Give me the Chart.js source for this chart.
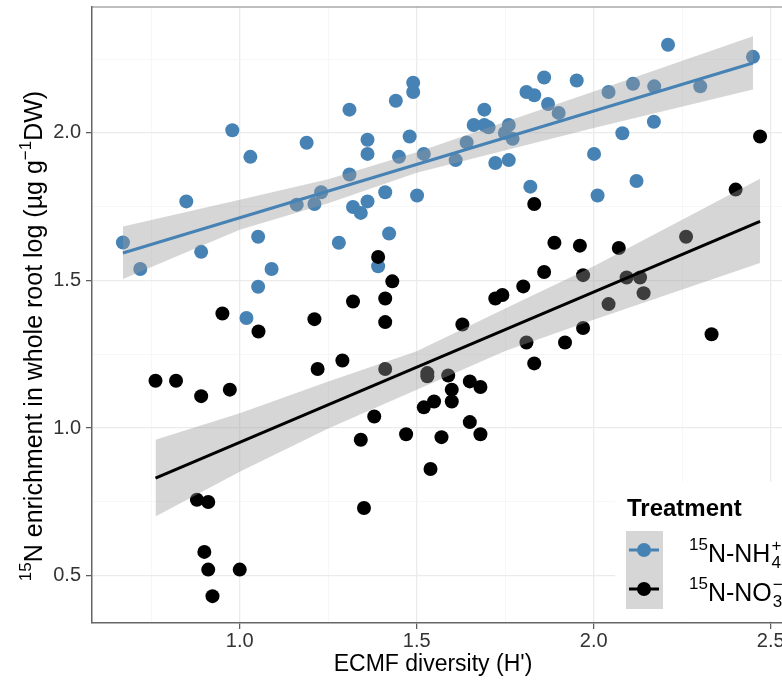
<!DOCTYPE html>
<html>
<head>
<meta charset="utf-8">
<script src="https://cdn.jsdelivr.net/npm/chart.js@4.4.1/dist/chart.umd.min.js"></script>
<style>
html, body { margin: 0; padding: 0; background: #fff; overflow: hidden; }
</style>
</head>
<body>
<canvas id="ecmfChart" width="782" height="686"></canvas>
<script>
var fontFamily = "'Liberation Sans', Arial, sans-serif";

var xTicks = [0.75, 1.0, 1.25, 1.5, 1.75, 2.0, 2.25, 2.5];
var yTicks = [0.5, 0.75, 1.0, 1.25, 1.5, 1.75, 2.0, 2.25];
var majorTicks = [0.5, 1.0, 1.5, 2.0, 2.5];

// 15N-NH4+ treatment
var nh4X = [0.670, 0.719, 0.849, 0.891, 0.979, 1.030, 1.052, 1.090, 1.052, 1.019,
            1.189, 1.161, 1.211, 1.230, 1.280, 1.310, 1.310, 1.320, 1.342, 1.361,
            1.361, 1.361, 1.391, 1.411, 1.422, 1.441, 1.480, 1.450, 1.490, 1.490,
            1.520, 1.501, 1.610, 1.641, 1.691, 1.661, 1.691, 1.703, 1.760, 1.749,
            1.771, 1.722, 1.760, 1.821, 1.810, 1.832, 1.860, 1.871, 1.901, 1.952,
            2.001, 2.011, 2.042, 2.081, 2.111, 2.121, 2.171, 2.170, 2.210, 2.301, 2.450];
var nh4Y = [1.629, 1.539, 1.768, 1.597, 2.009, 1.919, 1.648, 1.539, 1.479, 1.373,
            1.967, 1.757, 1.759, 1.799, 1.628, 2.079, 1.859, 1.749, 1.729, 1.977,
            1.929, 1.768, 1.548, 1.799, 1.659, 2.109, 1.988, 1.919, 2.170, 2.139,
            1.929, 1.788, 1.908, 1.968, 2.079, 2.027, 2.027, 2.019, 2.027, 2.000,
            1.980, 1.898, 1.908, 1.818, 2.139, 2.128, 2.188, 2.098, 2.068, 2.178,
            1.929, 1.788, 2.139, 1.999, 2.167, 1.837, 2.158, 2.038, 2.299, 2.158, 2.258];

// 15N-NO3- treatment
var no3X = [0.762, 0.820, 0.891, 0.951, 0.972, 0.879, 0.911, 0.900, 0.911, 1.000,
            0.923, 1.053, 1.211, 1.220, 1.290, 1.320, 1.411, 1.411, 1.431, 1.411,
            1.380, 1.342, 1.351, 1.470, 1.530, 1.530, 1.520, 1.549, 1.539, 1.391,
            1.832, 1.889, 1.961, 2.071, 1.860, 1.801, 1.722, 1.742, 1.970, 2.093,
            2.131, 2.141, 2.042, 2.261, 2.401, 2.470, 1.629, 1.589, 1.599, 1.599,
            1.650, 1.680, 1.650, 1.680, 1.570, 1.810, 1.832, 1.919, 1.970, 2.333];
var no3Y = [1.160, 1.160, 1.108, 1.388, 1.130, 0.757, 0.749, 0.580, 0.520, 0.520,
            0.430, 1.327, 1.369, 1.200, 1.229, 1.429, 1.439, 1.359, 1.497, 1.200,
            1.039, 0.960, 0.729, 0.979, 1.186, 1.175, 1.070, 1.090, 0.861, 1.580,
            1.759, 1.628, 1.618, 1.610, 1.529, 1.480, 1.439, 1.451, 1.518, 1.510,
            1.510, 1.457, 1.420, 1.648, 1.808, 1.988, 1.351, 1.178, 1.130, 1.090,
            1.158, 1.139, 1.020, 0.979, 0.969, 1.290, 1.219, 1.290, 1.339, 1.318];

// fitted lines and their grey bands
var nh4FitX = [0.670, 2.450];
var nh4FitY = [1.593, 2.237];
var nh4BandX = [0.670, 1.0, 1.25, 1.5, 2.0, 2.450];
var nh4BandLow = [1.505, 1.672, 1.762, 1.865, 2.017, 2.147];
var nh4BandHigh = [1.683, 1.774, 1.843, 1.935, 2.141, 2.328];

var no3FitX = [0.762, 2.470];
var no3FitY = [0.830, 1.700];
var no3BandX = [0.762, 1.0, 1.25, 1.5, 1.75, 2.0, 2.470];
var no3BandLow = [0.700, 0.852, 0.998, 1.130, 1.261, 1.367, 1.559];
var no3BandHigh = [0.960, 1.050, 1.158, 1.260, 1.405, 1.548, 1.845];

var blue = '#4682b4';
var bandFill = 'rgba(153,153,153,0.4)';

function toPoints(xs, ys) {
    return xs.map(function (x, i) { return { x: x, y: ys[i] }; });
}

function isMajor(v) {
    return majorTicks.some(function (m) { return Math.abs(m - v) < 1e-6; });
}

function lineSet(xs, ys, color) {
    return { data: toPoints(xs, ys), showLine: true, borderColor: color, borderWidth: 3,
             pointRadius: 0, fill: false, order: 0 };
}

function bandSet(xs, ys, fill) {
    return { data: toPoints(xs, ys), showLine: true, borderWidth: 0, borderColor: 'rgba(0,0,0,0)',
             pointRadius: 0, fill: fill, backgroundColor: bandFill, order: 1 };
}

function drawRuns(ctx, runs, x, y) {
    runs.forEach(function (r) {
        ctx.font = (r.bold ? 'bold ' : '') + r.size + 'px ' + fontFamily;
        ctx.fillText(r.text, x, y + (r.dy || 0));
        x += ctx.measureText(r.text).width;
    });
    return x;
}

function runsWidth(ctx, runs) {
    var w = 0;
    runs.forEach(function (r) {
        ctx.font = (r.bold ? 'bold ' : '') + r.size + 'px ' + fontFamily;
        w += ctx.measureText(r.text).width;
    });
    return w;
}

var decorPlugin = {
    id: 'decor',
    afterDraw: function (chart) {
        var ctx = chart.ctx;
        var area = chart.chartArea;
        ctx.save();

        // top panel border
        ctx.strokeStyle = '#7f7f7f';
        ctx.lineWidth = 1.2;
        ctx.beginPath();
        ctx.moveTo(area.left, area.top);
        ctx.lineTo(chart.width, area.top);
        ctx.stroke();

        ctx.fillStyle = '#000';
        ctx.textBaseline = 'alphabetic';

        // x title
        var xt = [{ text: "ECMF diversity (H')", size: 23 }];
        drawRuns(ctx, xt, 433 - runsWidth(ctx, xt) / 2, 671);

        // y title
        var yt = [
            { text: '15', size: 17, dy: -11 },
            { text: 'N enrichment in whole root log (\u00b5g g', size: 25 },
            { text: '\u22121', size: 17, dy: -11 },
            { text: 'DW)', size: 25 }
        ];
        ctx.save();
        ctx.translate(42, 336);
        ctx.rotate(-Math.PI / 2);
        drawRuns(ctx, yt, -runsWidth(ctx, yt) / 2, 0);
        ctx.restore();

        // legend
        ctx.fillStyle = '#fff';
        ctx.fillRect(615, 482, 180, 139);
        ctx.fillStyle = '#000';
        drawRuns(ctx, [{ text: 'Treatment', size: 24, bold: true }], 627, 516);

        ctx.fillStyle = bandFill;
        ctx.fillRect(626, 531, 37, 78);

        var keys = [{ y: 550, color: blue, ion: 'NH', sup: '+', sub: '4' },
                    { y: 589, color: '#000', ion: 'NO', sup: '\u2212', sub: '3' }];
        keys.forEach(function (k) {
            ctx.strokeStyle = k.color;
            ctx.lineWidth = 3;
            ctx.beginPath();
            ctx.moveTo(629, k.y);
            ctx.lineTo(659, k.y);
            ctx.stroke();
            ctx.fillStyle = k.color;
            ctx.beginPath();
            ctx.arc(644, k.y, 7, 0, Math.PI * 2);
            ctx.fill();

            ctx.fillStyle = '#000';
            var base = k.y + 12;
            var x = drawRuns(ctx, [
                { text: '15', size: 17, dy: -12 },
                { text: 'N-' + k.ion, size: 25 }
            ], 689, base);
            ctx.font = '17px ' + fontFamily;
            ctx.fillText(k.sup, x + 1, base - 11);
            ctx.fillText(k.sub, x + 1, base + 6);
        });

        ctx.restore();
    }
};

function fixPadding(s) {
    s.paddingTop = 0;
    s.paddingBottom = 0;
    s.paddingLeft = 0;
    s.paddingRight = 0;
}

var ctx = document.getElementById('ecmfChart').getContext('2d');
var ecmfChart = new Chart(ctx, {
    type: 'scatter',
    data: {
        datasets: [
            lineSet(nh4FitX, nh4FitY, blue),
            lineSet(no3FitX, no3FitY, '#000'),
            bandSet(nh4BandX, nh4BandHigh, '+1'),
            bandSet(nh4BandX, nh4BandLow, false),
            bandSet(no3BandX, no3BandHigh, '+1'),
            bandSet(no3BandX, no3BandLow, false),
            { label: '15N-NO3-', data: toPoints(no3X, no3Y), backgroundColor: '#000',
              pointRadius: 7, pointBorderWidth: 0, order: 2 },
            { label: '15N-NH4+', data: toPoints(nh4X, nh4Y), backgroundColor: blue,
              pointRadius: 7, pointBorderWidth: 0, order: 3 }
        ]
    },
    options: {
        responsive: false,
        animation: false,
        events: [],
        layout: { autoPadding: false, padding: { top: 7, right: 0, bottom: 0, left: 0 } },
        plugins: { legend: { display: false }, tooltip: { enabled: false } },
        scales: {
            x: {
                type: 'linear',
                min: 0.5826,
                max: 2.532,
                afterBuildTicks: function (s) { s.ticks = xTicks.map(function (v) { return { value: v }; }); },
                afterFit: function (s) { s.height = 63; fixPadding(s); },
                border: { display: true, color: '#666', width: 1.5 },
                grid: {
                    color: function (c) { return isMajor(c.tick.value) ? '#ebebeb' : '#f4f4f4'; },
                    lineWidth: function (c) { return isMajor(c.tick.value) ? 1.3 : 0.7; },
                    tickColor: function (c) { return isMajor(c.tick.value) ? '#555' : 'rgba(0,0,0,0)'; },
                    tickLength: 6,
                    tickWidth: 1.2
                },
                ticks: {
                    color: '#333',
                    font: { family: fontFamily, size: 20 },
                    padding: 0,
                    maxRotation: 0,
                    autoSkip: false,
                    callback: function (v) { return isMajor(v) ? v.toFixed(1) : ''; }
                }
            },
            y: {
                type: 'linear',
                min: 0.339,
                max: 2.427,
                afterBuildTicks: function (s) { s.ticks = yTicks.map(function (v) { return { value: v }; }); },
                afterFit: function (s) { s.width = 92; fixPadding(s); },
                border: { display: true, color: '#666', width: 1.5 },
                grid: {
                    color: function (c) { return isMajor(c.tick.value) ? '#ebebeb' : '#f4f4f4'; },
                    lineWidth: function (c) { return isMajor(c.tick.value) ? 1.3 : 0.7; },
                    tickColor: function (c) { return isMajor(c.tick.value) ? '#555' : 'rgba(0,0,0,0)'; },
                    tickLength: 6,
                    tickWidth: 1.2
                },
                ticks: {
                    color: '#333',
                    font: { family: fontFamily, size: 20 },
                    padding: 5,
                    autoSkip: false,
                    callback: function (v) { return isMajor(v) ? v.toFixed(1) : ''; }
                }
            }
        }
    },
    plugins: [decorPlugin]
});
</script>
</body>
</html>
